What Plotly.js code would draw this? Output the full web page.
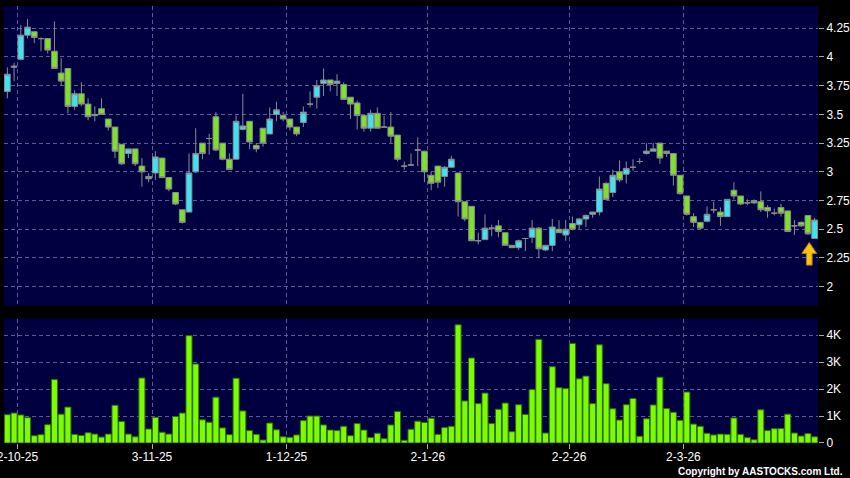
<!DOCTYPE html>
<html>
<head>
<meta charset="utf-8">
<script src="https://cdn.plot.ly/plotly-3.0.1.min.js"></script>
<style>html,body{margin:0;padding:0;background:#000;}#chart{width:850px;height:478px;}</style>
</head>
<body>
<div id="chart"></div>
<script>
// ---- Data (daily OHLC + volume, index 0 = 29-09-25 ... last = 27-03-26) ----
const openP = [3.70,3.91,3.98,4.19,4.22,4.16,4.16,4.05,3.86,3.90,
  3.57,3.68,3.59,3.49,3.55,3.46,3.39,3.24,3.16,3.20,
  3.05,2.94,2.99,3.12,2.95,2.82,2.67,2.65,3.00,3.25,
  3.29,3.48,3.25,3.11,3.11,3.37,3.44,3.23,3.38,3.33,
  3.50,3.49,3.46,3.39,3.43,3.59,3.65,3.77,3.80,3.77,
  3.76,3.65,3.60,3.49,3.38,3.51,3.39,3.39,3.32,3.05,
  3.06,3.19,3.18,2.97,3.05,2.96,3.04,2.99,2.74,2.70,
  2.40,2.41,2.51,2.53,2.47,2.36,2.34,2.42,2.43,2.51,
  2.32,2.36,2.50,2.45,2.55,2.54,2.59,2.63,2.65,2.90,
  2.82,3.00,2.98,3.04,3.09,3.16,3.18,3.25,3.18,3.16,
  2.97,2.79,2.61,2.56,2.57,2.67,2.65,2.61,2.84,2.79,
  2.73,2.73,2.74,2.69,2.64,2.69,2.66,2.53,2.56,2.62,2.42];
const highP = [3.91,3.95,4.28,4.33,4.22,4.17,4.16,4.31,3.99,3.90,
  3.71,3.78,3.64,3.57,3.64,3.46,3.39,3.24,3.20,3.20,
  3.12,2.99,3.18,3.12,2.95,2.82,2.67,3.16,3.38,3.25,
  3.33,3.52,3.25,3.16,3.49,3.68,3.44,3.25,3.38,3.56,
  3.61,3.52,3.46,3.39,3.57,3.70,3.80,3.90,3.80,3.85,
  3.78,3.65,3.62,3.49,3.54,3.56,3.49,3.52,3.32,3.09,
  3.16,3.30,3.18,3.00,3.05,3.05,3.14,2.99,2.74,2.70,
  2.47,2.63,2.54,2.58,2.47,2.36,2.41,2.42,2.58,2.52,
  2.36,2.59,2.58,2.58,2.61,2.60,2.63,2.65,2.96,2.91,
  3.02,3.10,3.09,3.11,3.12,3.25,3.25,3.25,3.18,3.16,
  2.97,2.79,2.64,2.56,2.70,2.74,2.69,2.76,2.91,2.79,
  2.76,2.76,2.83,2.71,2.68,2.72,2.66,2.58,2.57,2.62,2.60];
const lowP = [3.64,3.79,3.97,4.16,4.12,4.05,4.03,3.90,3.75,3.51,
  3.54,3.57,3.45,3.44,3.50,3.36,3.12,3.06,3.12,3.05,
  2.87,2.91,2.93,2.95,2.83,2.71,2.55,2.65,2.99,3.11,
  3.15,3.18,3.10,3.02,3.11,3.36,3.20,3.17,3.22,3.33,
  3.44,3.44,3.36,3.31,3.39,3.56,3.55,3.66,3.70,3.66,
  3.63,3.46,3.37,3.35,3.35,3.38,3.39,3.25,3.09,3.02,
  3.05,3.05,2.91,2.84,2.86,2.87,3.04,2.61,2.57,2.40,
  2.37,2.41,2.44,2.43,2.36,2.34,2.32,2.31,2.38,2.25,
  2.31,2.31,2.47,2.40,2.49,2.50,2.52,2.60,2.62,2.76,
  2.78,2.91,2.90,3.01,3.07,3.15,3.18,3.07,3.13,2.88,
  2.80,2.62,2.52,2.50,2.56,2.64,2.53,2.61,2.76,2.71,
  2.71,2.72,2.65,2.60,2.62,2.61,2.48,2.45,2.52,2.45,2.42];
const closeP = [3.85,3.92,4.19,4.26,4.17,4.16,4.06,3.90,3.79,3.57,
  3.68,3.59,3.48,3.50,3.50,3.39,3.18,3.07,3.20,3.07,
  3.00,2.96,3.13,2.95,2.85,2.72,2.56,2.99,3.16,3.16,
  3.29,3.19,3.11,3.02,3.44,3.40,3.26,3.20,3.25,3.46,
  3.54,3.46,3.39,3.33,3.52,3.59,3.75,3.80,3.76,3.79,
  3.63,3.59,3.49,3.38,3.51,3.38,3.39,3.31,3.11,3.05,
  3.06,3.19,3.00,2.90,2.91,3.04,3.11,2.74,2.59,2.40,
  2.40,2.51,2.51,2.48,2.36,2.34,2.40,2.42,2.51,2.33,
  2.36,2.52,2.47,2.50,2.50,2.59,2.62,2.65,2.85,2.76,
  2.97,2.93,3.03,3.04,3.09,3.18,3.20,3.12,3.16,2.97,
  2.81,2.63,2.56,2.51,2.63,2.67,2.61,2.76,2.79,2.72,
  2.73,2.75,2.67,2.66,2.64,2.64,2.48,2.53,2.53,2.46,2.58];
const volume = [1050,1110,1040,940,270,310,680,2350,1070,1330,
  320,280,380,330,220,330,1400,800,330,230,
  2410,520,950,400,330,980,1110,3980,2930,860,
  770,1700,560,310,2400,1190,460,320,110,740,
  490,230,210,300,830,1000,1000,670,480,460,
  620,270,720,480,200,360,160,670,1170,100,
  510,810,760,920,320,570,620,4380,1560,3150,
  1460,1850,720,1250,1480,420,1420,1060,1980,3840,
  370,2830,2050,2020,3690,2380,2480,1460,3640,2200,
  1270,850,1420,1650,250,900,1410,2440,1280,1140,
  840,1890,700,620,360,300,330,320,930,320,
  200,120,1230,460,530,540,1070,370,260,350,230];
// first trading day of each month (candle index) and its label
const monthStartIdx = [2, 22, 42, 63, 84, 101];
const monthLabels = ['2-10-25', '3-11-25', '1-12-25', '2-1-26', '2-2-26', '2-3-26'];
const priceTicks = [2, 2.25, 2.5, 2.75, 3, 3.25, 3.5, 3.75, 4, 4.25];
const priceTickText = ['2', '2.25', '2.5', '2.75', '3', '3.25', '3.5', '3.75', '4', '4.25'];
const volTicks = [0, 1000, 2000, 3000, 4000];
const volTickText = ['0', '1K', '2K', '3K', '4K'];

// ---- build ----
const idx = closeP.map((_, i) => i);
const n = idx.length;
const monthBounds = monthStartIdx.map(v => v - 0.5);
const FONT = 'Liberation Sans, Arial, sans-serif';
const GRID = '#5c5c96';

const candle = {
  type: 'candlestick', x: idx, open: openP, high: highP, low: lowP, close: closeP,
  xaxis: 'x2', yaxis: 'y',
  increasing: {line: {color: '#8c8c8c', width: 1}, fillcolor: '#3fe2f2'},
  decreasing: {line: {color: '#8c8c8c', width: 1}, fillcolor: '#7ee02a'},
  whiskerwidth: 0, hoverinfo: 'skip', showlegend: false
};
const bars = {
  type: 'bar', x: idx, y: volume, xaxis: 'x', yaxis: 'y2',
  marker: {color: '#7cfc00', line: {color: '#2f6a12', width: 1}},
  hoverinfo: 'skip', showlegend: false
};

const baseX = {
  range: [-0.5, n - 0.5], showgrid: true, gridcolor: GRID, griddash: '4px,3px', gridwidth: 1,
  zeroline: false, showline: false, tickmode: 'array', tickvals: monthBounds, ticktext: monthLabels,
  rangeslider: {visible: false}, fixedrange: true
};
const lastI = n - 1;
const ax = lastI - 0.8;
const arrowPath = `M ${ax},2.385 L ${ax + 1.1},2.29 L ${ax + 0.42},2.29 L ${ax + 0.42},2.188 L ${ax - 0.42},2.188 L ${ax - 0.42},2.29 L ${ax - 1.1},2.29 Z`;

const layout = {
  width: 850, height: 478,
  margin: {l: 4, r: 32, t: 6, b: 34.5, pad: 0},
  paper_bgcolor: '#000000', plot_bgcolor: '#000040',
  showlegend: false, bargap: 0.1, boxgap: 0.15, boxgroupgap: 0,
  font: {family: FONT, color: '#ffffff', size: 12},
  xaxis: Object.assign({}, baseX, {
    domain: [0, 1], anchor: 'y2', showticklabels: true, ticks: 'outside', ticklen: 5,
    tickcolor: '#aaaaaa', tickfont: {family: FONT, size: 12, color: '#ffffff'},
    ticklabeloverflow: 'allow', ticklabelstandoff: -2
  }),
  xaxis2: Object.assign({}, baseX, {
    domain: [0, 1], anchor: 'y', matches: 'x', showticklabels: false, ticks: ''
  }),
  yaxis: {
    domain: [0.3143, 1], anchor: 'x2', side: 'right', range: [1.835, 4.444],
    tickmode: 'array', tickvals: priceTicks, ticktext: priceTickText,
    ticks: 'outside', ticklen: 5, tickcolor: '#aaaaaa',
    tickfont: {family: FONT, size: 12, color: '#ffffff'},
    showgrid: true, gridcolor: GRID, griddash: '4px,3px', zeroline: false, showline: false, fixedrange: true
  },
  yaxis2: {
    domain: [0, 0.2846], anchor: 'x', side: 'right', range: [0, 4610],
    tickmode: 'array', tickvals: volTicks, ticktext: volTickText,
    ticks: 'outside', ticklen: 5, tickcolor: '#aaaaaa',
    tickfont: {family: FONT, size: 12, color: '#ffffff'},
    showgrid: true, gridcolor: GRID, griddash: '4px,3px', zeroline: false, showline: false, fixedrange: true
  },
  shapes: [{
    type: 'path', xref: 'x2', yref: 'y', path: arrowPath,
    fillcolor: '#f7c21a', line: {color: '#b98100', width: 1}, layer: 'above'
  }],
  annotations: [{
    xref: 'paper', yref: 'paper', x: 1.033, y: -0.066, xanchor: 'right', yanchor: 'middle',
    text: '<b>Copyright by AASTOCKS.com Ltd.</b>', showarrow: false,
    font: {family: FONT, size: 10, color: '#ffffff'}
  }]
};

Plotly.newPlot('chart', [bars, candle], layout, {staticPlot: true, displayModeBar: false});
</script>
</body>
</html>
